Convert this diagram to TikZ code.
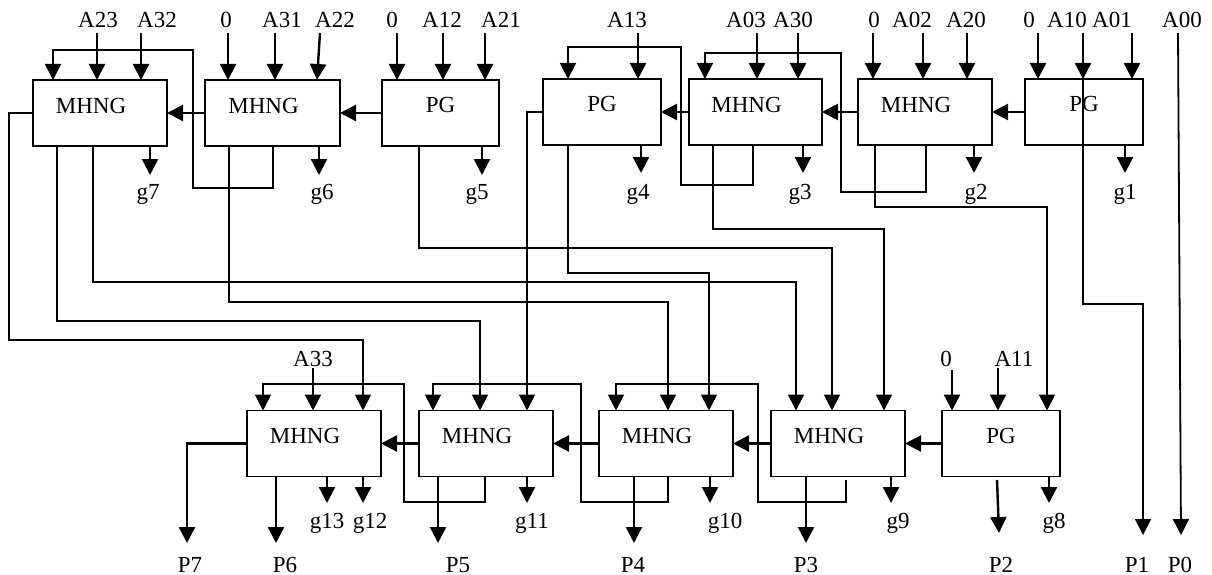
\documentclass[tikz,border=0pt]{standalone}
\usepackage{fontspec}
\setmainfont{Liberation Serif}
\usetikzlibrary{arrows.meta}
\begin{document}
\begin{tikzpicture}[x=1pt,y=-1pt,
  box/.style={draw,line width=1.8pt,minimum height=66pt,inner sep=0pt,outer sep=0pt},
  btxt/.style={font=\fontsize{23}{24}\selectfont,inner sep=0pt},
  lbl/.style={font=\fontsize{23}{24}\selectfont,inner sep=0pt,anchor=base},
  warr/.style={line width=1.8pt,-{Triangle[length=16pt,width=16pt]}},
  arr/.style={line width=2.4pt,-{Triangle[length=16pt,width=16pt]}},
  mh/.style={box,label={[btxt,shift={(-9,-7.5)}]center:MHNG}},
  pg/.style={box,label={[btxt,shift={(0,-8)}]center:PG}}]
\useasboundingbox (0,0) rectangle (1212,575);

% ---- top row boxes ----
\node[mh,minimum width=134pt] (T1) at (100,113) {};
\node[mh,minimum width=135pt] (T2) at (272.5,113) {};
\node[pg,minimum width=117pt] (T3) at (440.5,113) {};
\node[pg,minimum width=118pt] (T4) at (602,112) {};
\node[mh,minimum width=133pt] (T5) at (755.5,112) {};
\node[mh,minimum width=134pt] (T6) at (925,112) {};
\node[pg,minimum width=118pt] (T7) at (1084,112) {};

% ---- bottom row boxes ----
\node[mh,minimum width=134pt] (B1) at (314,443.5) {};
\node[mh,minimum width=134pt] (B2) at (486,443.5) {};
\node[mh,minimum width=134pt] (B3) at (666,443.5) {};
\node[mh,minimum width=134pt] (B4) at (838,443.5) {};
\node[pg,minimum width=118pt] (B5) at (1001,443.5) {};

% ---- top labels ----
\node[lbl] (lA23) at (98,28) {A23};
\node[lbl] (lA32) at (157,28) {A32};
\node[lbl] (lz1) at (226,28) {0};
\node[lbl] (lA31) at (282,28) {A31};
\node[lbl] (lA22) at (335,28) {A22};
\node[lbl] (lz2) at (392,28) {0};
\node[lbl] (lA12) at (442,28) {A12};
\node[lbl] (lA21) at (501,28) {A21};
\node[lbl] (lA13) at (627,28) {A13};
\node[lbl] (lA03) at (746,28) {A03};
\node[lbl] (lA30) at (793,28) {A30};
\node[lbl] (lz3) at (874,28) {0};
\node[lbl] (lA02) at (912,28) {A02};
\node[lbl] (lA20) at (966,28) {A20};
\node[lbl] (lz4) at (1029,28) {0};
\node[lbl] (lA10) at (1067,28) {A10};
\node[lbl] (lA01) at (1112,28) {A01};
\node[lbl] (lA00) at (1182,28) {A00};

% ---- top input arrows ----
\draw[arr] (97,33) -- (97,0 |- T1.north);
\draw[arr] (141,33) -- (141,0 |- T1.north);
\draw[arr] (228,33) -- (228,0 |- T2.north);
\draw[arr] (275,33) -- (275,0 |- T2.north);
\draw[arr] (320,33) -- (317,0 |- T2.north);
\draw[arr] (397,33) -- (397,0 |- T3.north);
\draw[arr] (443,33) -- (443,0 |- T3.north);
\draw[arr] (485,33) -- (485,0 |- T3.north);
\draw[arr] (638,33) -- (638,0 |- T4.north);
\draw[arr] (757,33) -- (757,0 |- T5.north);
\draw[arr] (798,33) -- (798,0 |- T5.north);
\draw[arr] (873,33) -- (873,0 |- T6.north);
\draw[arr] (923,33) -- (923,0 |- T6.north);
\draw[arr] (967,33) -- (967,0 |- T6.north);
\draw[arr] (1038,33) -- (1038,0 |- T7.north);
\draw[arr] (1083,33) -- (1083,0 |- T7.north);
\draw[arr] (1132,33) -- (1132,0 |- T7.north);

% ---- carry chain, top ----
\draw[arr] (T2.west) -- (T1.east);
\draw[arr] (T3.west) -- (T2.east);
\draw[arr] (T5.west) -- (T4.east);
\draw[arr] (T6.west) -- (T5.east);
\draw[arr] (T7.west) -- (T6.east);

% ---- feedback loops, top ----
\draw[warr] (273,0 |- T2.south) -- (273,188) -- (193,188) -- (193,50) -- (53,50) -- (53,0 |- T1.north);
\draw[warr] (753,0 |- T5.south) -- (753,185) -- (681,185) -- (681,47) -- (568,47) -- (568,0 |- T4.north);
\draw[warr] (926,0 |- T6.south) -- (926,192) -- (841,192) -- (841,53) -- (705,53) -- (705,0 |- T5.north);

% ---- g outputs, top ----
\draw[arr] (150,0 |- T1.south) -- (150,175);
\draw[arr] (319,0 |- T2.south) -- (319,175);
\draw[arr] (482,0 |- T3.south) -- (482,175);
\draw[arr] (641,0 |- T4.south) -- (641,173);
\draw[arr] (803,0 |- T5.south) -- (803,173);
\draw[arr] (974,0 |- T6.south) -- (974,173);
\draw[arr] (1125,0 |- T7.south) -- (1125,173);
\node[lbl] (lg7) at (148,199) {g7};
\node[lbl] (lg6) at (322,199) {g6};
\node[lbl] (lg5) at (477,199) {g5};
\node[lbl] (lg4) at (638,199) {g4};
\node[lbl] (lg3) at (800,199) {g3};
\node[lbl] (lg2) at (976,199) {g2};
\node[lbl] (lg1) at (1125,199) {g1};

% ---- long wires between rows ----
\draw[warr] (T1.west) -- (9,113) -- (9,340) -- (363,340) -- (363,0 |- B1.north);
\draw[warr] (57,0 |- T1.south) -- (57,321) -- (480,321) -- (480,0 |- B2.north);
\draw[warr] (93,0 |- T1.south) -- (93,282) -- (796,282) -- (796,0 |- B4.north);
\draw[warr] (229,0 |- T2.south) -- (229,302) -- (668,302) -- (668,0 |- B3.north);
\draw[warr] (419,0 |- T3.south) -- (419,248) -- (832,248) -- (832,0 |- B4.north);
\draw[warr] (T4.west) -- (527,112) -- (527,0 |- B2.north);
\draw[warr] (568,0 |- T4.south) -- (568,273) -- (709,273) -- (709,0 |- B3.north);
\draw[warr] (713,0 |- T5.south) -- (713,229) -- (884,229) -- (884,0 |- B4.north);
\draw[warr] (875,0 |- T6.south) -- (875,207) -- (1047,207) -- (1047,0 |- B5.north);
\coordinate (p1end) at (1143,535);
\coordinate (p0end) at (1181,535);
\draw[warr] (1083,0 |- T7.north) -- (1083,304) -- (1143,304) -- (p1end);
\draw[warr] (1178,33) -- (p0end);

% ---- bottom labels and inputs ----
\node[lbl] (lA33) at (313,366) {A33};
\node[lbl] (lz5) at (946,366) {0};
\node[lbl] (lA11) at (1014,366) {A11};
\draw[arr] (313,368) -- (313,0 |- B1.north);
\draw[arr] (952,370) -- (952,0 |- B5.north);
\draw[arr] (998,368) -- (998,0 |- B5.north);

% ---- carry chain, bottom ----
\draw[arr] (B2.west) -- (B1.east);
\draw[arr] (B3.west) -- (B2.east);
\draw[arr] (B4.west) -- (B3.east);
\draw[arr] (B5.west) -- (B4.east);

% ---- feedback loops, bottom ----
\draw[warr] (485,0 |- B2.south) -- (485,502) -- (404,502) -- (404,384) -- (263,384) -- (263,0 |- B1.north);
\draw[warr] (668,0 |- B3.south) -- (668,502) -- (581,502) -- (581,384) -- (433,384) -- (433,0 |- B2.north);
\draw[warr] (846,480) -- (846,502) -- (758,502) -- (758,384) -- (616,384) -- (616,0 |- B3.north);

% ---- g outputs, bottom ----
\draw[arr] (327,0 |- B1.south) -- (327,503);
\draw[arr] (363,0 |- B1.south) -- (363,503);
\draw[arr] (527,0 |- B2.south) -- (527,503);
\draw[arr] (710,0 |- B3.south) -- (710,503);
\draw[arr] (891,0 |- B4.south) -- (891,503);
\draw[arr] (1049,0 |- B5.south) -- (1049,503);
\node[lbl] (lg13) at (327,528) {g13};
\node[lbl] (lg12) at (370,528) {g12};
\node[lbl] (lg11) at (532,528) {g11};
\node[lbl] (lg10) at (725,528) {g10};
\node[lbl] (lg9) at (898,528) {g9};
\node[lbl] (lg8) at (1054,528) {g8};

% ---- P outputs ----
\draw[arr] (B1.west) -- (187,443.5) -- (187,543);
\draw[arr] (276,0 |- B1.south) -- (276,543);
\draw[arr] (438,0 |- B2.south) -- (438,543);
\draw[arr] (634,0 |- B3.south) -- (634,543);
\draw[arr] (806,0 |- B4.south) -- (806,543);
\draw[arr] (997,480) -- (999,533);
\node[lbl] (lP7) at (190,572) {P7};
\node[lbl] (lP6) at (285,572) {P6};
\node[lbl] (lP5) at (458,572) {P5};
\node[lbl] (lP4) at (633,572) {P4};
\node[lbl] (lP3) at (806,572) {P3};
\node[lbl] (lP2) at (1001,572) {P2};
\node[lbl] (lP1) at (1137,572) {P1};
\node[lbl] (lP0) at (1180,572) {P0};
\end{tikzpicture}
\end{document}
